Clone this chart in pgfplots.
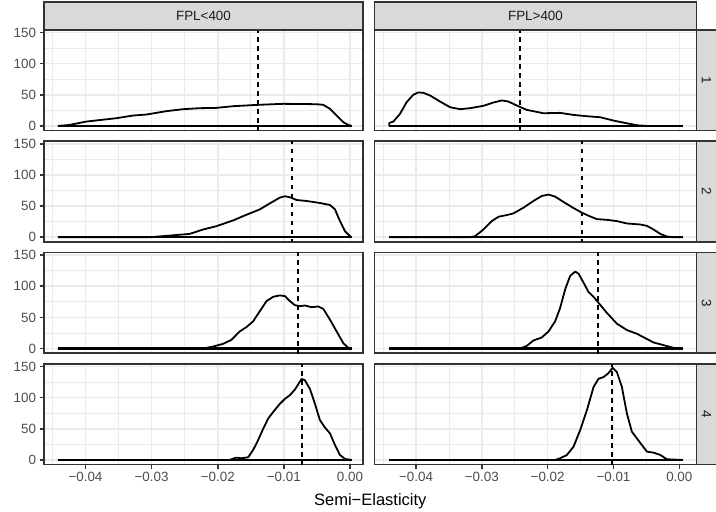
\documentclass[border=0pt]{standalone}
\usepackage{fontspec}
\setmainfont{Liberation Sans}
\usepackage{pgfplots}
\pgfplotsset{compat=1.18}

\definecolor{grey10}{HTML}{1A1A1A}
\definecolor{grey20}{HTML}{333333}
\definecolor{grey30}{HTML}{4D4D4D}
\definecolor{grey85}{HTML}{D9D9D9}
\definecolor{grey92}{HTML}{EBEBEB}

\pgfplotsset{
  facet/.style={
    scale only axis, anchor=south west, height=100.5pt,
    ymin=-7.3, ymax=154,
    xtick={-0.04,-0.03,-0.02,-0.01,0},
    minor xtick={-0.045,-0.035,-0.025,-0.015,-0.005},
    ytick={0,50,100,150}, minor ytick={25,75,125},
    scaled x ticks=false, scaled y ticks=false,
    xticklabels={}, yticklabels={},
    grid=both,
    major grid style={draw=grey92, line width=1.6pt},
    minor grid style={draw=grey92, line width=0.8pt},
    axis line style={draw=grey20, line width=1.6pt},
    tick pos=left, tick align=outside,
    major tick length=4.1pt, minor tick length=0pt,
    tick style={draw=grey20, line width=1.6pt},
    xmajorticks=false, ymajorticks=false,
    tick label style={font=\fontsize{13.4}{14}\selectfont, text=grey30, inner sep=0pt},
    yticklabel style={xshift=-3.6pt},
    xticklabel style={yshift=-3.6pt},
  },
  lcol/.style={facet, at={(44pt,#1)}, width=319pt, xmin=-0.046276, xmax=0.001966,
    ymajorticks=true, yticklabels={0,50,100,150}},
  rcol/.style={facet, at={(374.5pt,#1)}, width=322pt, xmin=-0.046305, xmax=0.002613},
  brow/.style={xmajorticks=true, xticklabels={−0.04,−0.03,−0.02,−0.01,0.00}},
  dens/.style={black, line width=1.8pt, line join=round},
  base/.style={black, line width=2.3pt},
  vline/.style={black, line width=2pt, dash pattern=on 4.8pt off 4.2pt},
}

\begin{document}
\begin{tikzpicture}
\path[use as bounding box] (0pt,0pt) rectangle (716pt,512pt);
\clip (0pt,0pt) rectangle (716pt,512pt);

% ---- row 1
\begin{axis}[lcol=381.5pt]
\addplot[base] coordinates {(-0.04419,0) (0.00025,0)};
\addplot[dens] coordinates {
(-0.04419,0) (-0.04242,1.6) (-0.03990,7.0) (-0.03535,12.4) (-0.03283,16.7)
(-0.03081,18.3) (-0.02778,23.7) (-0.02525,26.9) (-0.02273,28.5) (-0.02020,29.0)
(-0.01768,31.7) (-0.01389,33.9) (-0.01010,35.5) (-0.00505,34.9) (-0.00404,33.9)
(-0.00303,27.4) (-0.00202,16.7) (-0.00101,5.9) (-0.00025,1.6) (0.00025,0)};
\addplot[vline] coordinates {(-0.01384,-10) (-0.01384,160)};
\end{axis}
\begin{axis}[rcol=381.5pt]
\addplot[base] coordinates {(-0.04406,0) (0.00056,0)};
\addplot[dens] coordinates {
(-0.04406,0) (-0.04406,4.8) (-0.04345,7.0) (-0.04243,19.4) (-0.04142,38.2)
(-0.04041,50.0) (-0.03965,53.8) (-0.03888,53.2) (-0.03787,48.9) (-0.03635,39.2)
(-0.03483,30.1) (-0.03331,26.9) (-0.03179,28.5) (-0.02976,32.3) (-0.02824,37.6)
(-0.02697,40.9) (-0.02596,39.2) (-0.02469,32.8) (-0.02317,25.8) (-0.02063,20.4)
(-0.01810,21.0) (-0.01607,17.7) (-0.01404,15.6) (-0.01202,14.0) (-0.00999,8.6)
(-0.00796,4.3) (-0.00644,1.1) (-0.00492,0) (0.00056,0)};
\addplot[vline] coordinates {(-0.02418,-10) (-0.02418,160)};
\end{axis}

% ---- row 2
\begin{axis}[lcol=270.2pt]
\addplot[base] coordinates {(-0.04419,0) (0.00025,0)};
\addplot[dens] coordinates {
(-0.04419,0) (-0.03030,0) (-0.02778,2.2) (-0.02424,5.4) (-0.02222,12.4)
(-0.02020,17.8) (-0.01768,27.0) (-0.01566,36.1) (-0.01364,44.7) (-0.01212,54.4)
(-0.01061,63.6) (-0.00985,65.8) (-0.00909,64.2) (-0.00808,59.8) (-0.00657,58.2)
(-0.00455,55.0) (-0.00303,51.8) (-0.00227,44.7) (-0.00152,25.9) (-0.00076,9.7)
(0.0,1.6) (0.00025,0)};
\addplot[vline] coordinates {(-0.00879,-10) (-0.00879,160)};
\end{axis}
\begin{axis}[rcol=270.2pt]
\addplot[base] coordinates {(-0.04406,0) (0.00056,0)};
\addplot[dens] coordinates {
(-0.04406,0) (-0.03179,0) (-0.03103,1.6) (-0.02976,12.4) (-0.02849,25.9)
(-0.02748,32.9) (-0.02621,35.6) (-0.02520,38.3) (-0.02368,47.4) (-0.02216,58.2)
(-0.02089,66.3) (-0.01987,68.5) (-0.01886,65.2) (-0.01759,56.6) (-0.01607,46.9)
(-0.01480,39.4) (-0.01354,33.4) (-0.01252,29.1) (-0.01100,28.0) (-0.00948,25.9)
(-0.00796,22.1) (-0.00593,20.5) (-0.00492,18.3) (-0.00390,12.4) (-0.00289,5.4)
(-0.00188,1.1) (-0.00086,0) (0.00056,0)};
\addplot[vline] coordinates {(-0.01480,-10) (-0.01480,160)};
\end{axis}

% ---- row 3
\begin{axis}[lcol=158.9pt]
\addplot[base] coordinates {(-0.04419,0) (0.00025,0)};
\addplot[dens] coordinates {
(-0.04419,0) (-0.02222,0) (-0.02071,3.2) (-0.01919,7.6) (-0.01793,14.0)
(-0.01667,27.5) (-0.01566,34.5) (-0.01465,43.7) (-0.01364,59.9) (-0.01263,76.1)
(-0.01162,83.1) (-0.01061,85.3) (-0.00985,84.2) (-0.00909,76.1) (-0.00833,69.6)
(-0.00758,68.0) (-0.00682,69.1) (-0.00581,66.4) (-0.00480,67.5) (-0.00404,63.7)
(-0.00303,46.4) (-0.00202,27.5) (-0.00101,8.6) (-0.00025,1.1) (0.00025,0)};
\addplot[vline] coordinates {(-0.00793,-10) (-0.00793,160)};
\end{axis}
\begin{axis}[rcol=158.9pt]
\addplot[base] coordinates {(-0.04406,0) (0.00056,0)};
\addplot[dens] coordinates {
(-0.04406,0) (-0.02418,0) (-0.02317,4.3) (-0.02216,13.0) (-0.02089,17.8)
(-0.01987,27.5) (-0.01886,43.7) (-0.01810,65.3) (-0.01734,95.0) (-0.01658,116.6)
(-0.01582,123.6) (-0.01531,120.3) (-0.01455,105.8) (-0.01379,90.7) (-0.01303,83.1)
(-0.01227,73.4) (-0.01100,57.2) (-0.00948,39.9) (-0.00796,29.7) (-0.00644,23.7)
(-0.00517,16.7) (-0.00390,9.7) (-0.00238,5.4) (-0.00086,1.1) (0.00056,0)};
\addplot[vline] coordinates {(-0.01237,-10) (-0.01237,160)};
\end{axis}

% ---- row 4
\begin{axis}[lcol=47.5pt, brow]
\addplot[base] coordinates {(-0.04419,0) (0.00025,0)};
\addplot[dens] coordinates {
(-0.04419,0) (-0.01818,0) (-0.01768,2.1) (-0.01717,3.7) (-0.01641,2.7)
(-0.01540,4.3) (-0.01465,16.0) (-0.01389,32.0) (-0.01313,50.0) (-0.01237,66.5)
(-0.01162,77.0) (-0.01061,90.0) (-0.00985,98.0) (-0.00909,104.0) (-0.00833,113.0)
(-0.00732,130.0) (-0.00682,128.0) (-0.00606,114.0) (-0.00530,90.0) (-0.00455,64.0)
(-0.00379,52.0) (-0.00303,42.6) (-0.00227,24.0) (-0.00152,8.0) (-0.00076,1.6)
(0.00025,0)};
\addplot[vline] coordinates {(-0.00727,-10) (-0.00727,160)};
\end{axis}
\begin{axis}[rcol=47.5pt, brow]
\addplot[base] coordinates {(-0.04406,0) (0.00056,0)};
\addplot[dens] coordinates {
(-0.04406,0) (-0.01886,0) (-0.01810,2.7) (-0.01708,8.0) (-0.01607,21.3)
(-0.01506,47.9) (-0.01404,79.8) (-0.01303,117.0) (-0.01227,130.3) (-0.01151,133.0)
(-0.01075,139.4) (-0.01014,147.9) (-0.00948,141.0) (-0.00872,117.0) (-0.00796,74.5)
(-0.00720,45.2) (-0.00644,34.6) (-0.00568,23.9) (-0.00492,13.3) (-0.00390,11.7)
(-0.00289,8.0) (-0.00188,1.1) (0.00056,0)};
\addplot[vline] coordinates {(-0.01024,-10) (-0.01024,160)};
\end{axis}

% ---- strips
\begin{scope}[font=\fontsize{13.4}{14}\selectfont, text=grey10]
\draw[fill=grey85, draw=grey20, line width=1.6pt] (44pt,482pt) rectangle (363pt,510pt);
\node at (203.5pt,496pt) {FPL<400};
\draw[fill=grey85, draw=grey20, line width=1.6pt] (374.5pt,482pt) rectangle (696.5pt,510pt);
\node at (535.5pt,496pt) {FPL>400};
\draw[fill=grey85, draw=grey20, line width=1.6pt] (696.5pt,381.5pt) rectangle (725pt,482pt);
\node[rotate=-90] at (706.5pt,431.75pt) {1};
\draw[fill=grey85, draw=grey20, line width=1.6pt] (696.5pt,270.2pt) rectangle (725pt,370.7pt);
\node[rotate=-90] at (706.5pt,320.45pt) {2};
\draw[fill=grey85, draw=grey20, line width=1.6pt] (696.5pt,158.9pt) rectangle (725pt,259.4pt);
\node[rotate=-90] at (706.5pt,209.15pt) {3};
\draw[fill=grey85, draw=grey20, line width=1.6pt] (696.5pt,47.5pt) rectangle (725pt,148pt);
\node[rotate=-90] at (706.5pt,97.75pt) {4};
\end{scope}

\node[anchor=base, font=\fontsize{16.5}{18}\selectfont] at (370.3pt,6pt) {Semi−Elasticity};
\end{tikzpicture}
\end{document}
